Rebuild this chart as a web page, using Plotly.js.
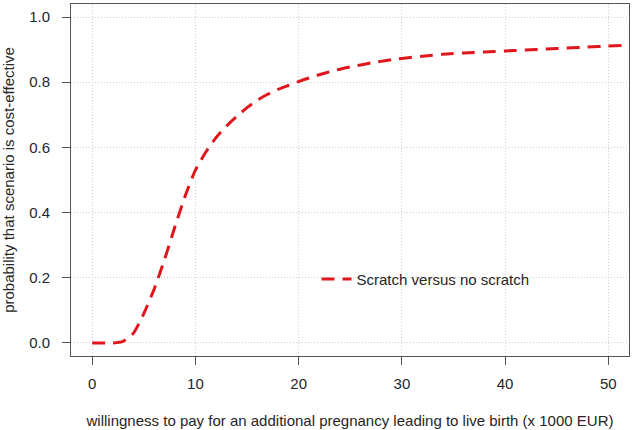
<!DOCTYPE html>
<html>
<head>
<meta charset="utf-8">
<script src="https://cdn.plot.ly/plotly-3.0.1.min.js"></script>
<style>html,body{margin:0;padding:0;background:#fff;}#chart{width:633px;height:430px;}</style>
</head>
<body>
<div id="chart"></div>
<script>
var wtp = [0,1,2,3,4,5,6,7,8,9,10,11,12,13,14,15,16,17,18,19,20,21,22,23,24,25,26,27,28,29,30,32,34,36,38,40,42,44,46,48,50,52];
var probCE = [0,0,0,0.005,0.03,0.09,0.165,0.255,0.355,0.45,0.53,0.585,0.63,0.665,0.695,0.722,0.745,0.763,0.778,0.79,0.802,0.813,0.823,0.832,0.84,0.847,0.853,0.859,0.864,0.869,0.873,0.88,0.886,0.89,0.893,0.896,0.899,0.902,0.905,0.908,0.911,0.914];
var seriesName = "Scratch versus no scratch";
var xTicks = [0,10,20,30,40,50];
var yTicks = [0,0.2,0.4,0.6,0.8,1.0];

var fam = "Liberation Sans, Arial, sans-serif";
var txt = "#262626";
var trace = {
  x: wtp, y: probCE, type: "scatter", mode: "lines", name: seriesName,
  line: {color: "#e0161c", width: 3, dash: "13px,8px", shape: "spline", smoothing: 0.6}
};
var layout = {
  width: 633, height: 430,
  margin: {l: 71, r: 4, t: 4, b: 74},
  paper_bgcolor: "#fff", plot_bgcolor: "#fff",
  font: {family: fam, size: 15, color: txt},
  showlegend: true,
  legend: {x: 0.44, y: 0.218, xanchor: "left", yanchor: "middle", bgcolor: "rgba(0,0,0,0)", font: {family: fam, size: 15, color: txt}},
  xaxis: {
    range: [-2.05, 52], tickvals: xTicks, ticktext: xTicks.map(String),
    showline: true, mirror: true, linecolor: "#555", linewidth: 1,
    ticks: "outside", ticklen: 8, tickcolor: "#555",
    showgrid: true, gridcolor: "#cfcfcf", griddash: "1px,2px", gridwidth: 1, zeroline: false,
    ticklabelstandoff: 6,
    tickfont: {family: fam, size: 15, color: txt},
    title: {text: "willingness to pay for an additional pregnancy leading to live birth (x 1000 EUR)", font: {family: fam, size: 15, color: txt}, standoff: 24}
  },
  yaxis: {
    range: [-0.04, 1.04], tickvals: yTicks, ticktext: yTicks.map(function(v){return v.toFixed(1);}),
    showline: true, mirror: true, linecolor: "#555", linewidth: 1,
    ticks: "outside", ticklen: 8, tickcolor: "#555",
    showgrid: true, gridcolor: "#cfcfcf", griddash: "1px,2px", gridwidth: 1, zeroline: false,
    ticklabelstandoff: 9,
    tickfont: {family: fam, size: 15, color: txt},
    title: {text: "probability that scenario is cost-effective", font: {family: fam, size: 15, color: txt}, standoff: 10}
  }
};
Plotly.newPlot("chart", [trace], layout, {displayModeBar: false, staticPlot: true});
</script>
</body>
</html>
